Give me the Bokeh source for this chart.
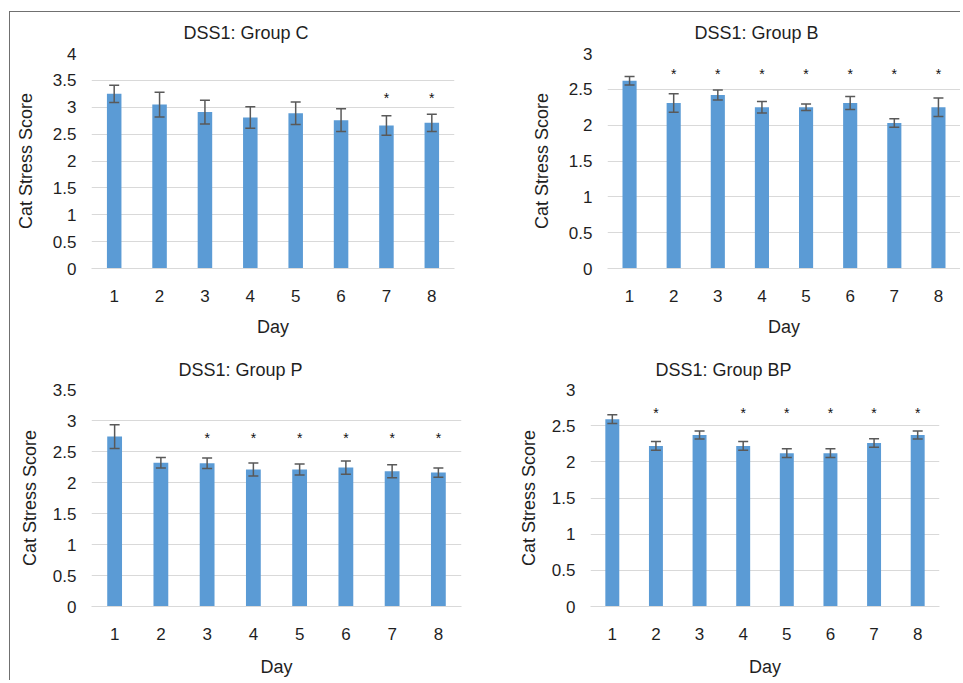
import numpy as np
from bokeh.plotting import figure
from bokeh.layouts import row, column
from bokeh.models import (ColumnDataSource, Range1d, FixedTicker, Whisker, TeeHead,
                          NumeralTickFormatter)
from bokeh.core.properties import value
from bokeh.embed import file_html
from bokeh.resources import INLINE

# ---------------- data ----------------
days = [1, 2, 3, 4, 5, 6, 7, 8]
day_labels = ["1", "2", "3", "4", "5", "6", "7", "8"]

c_mean = [3.25, 3.05, 2.91, 2.81, 2.89, 2.76, 2.66, 2.71]
c_err = [0.16, 0.23, 0.22, 0.20, 0.21, 0.21, 0.18, 0.16]
c_sig = [7, 8]

b_mean = [2.62, 2.31, 2.42, 2.25, 2.25, 2.31, 2.03, 2.25]
b_err = [0.06, 0.13, 0.07, 0.08, 0.045, 0.09, 0.06, 0.13]
b_sig = [2, 3, 4, 5, 6, 7, 8]

p_mean = [2.74, 2.32, 2.31, 2.21, 2.21, 2.24, 2.18, 2.16]
p_err = [0.19, 0.085, 0.085, 0.105, 0.09, 0.105, 0.105, 0.075]
p_sig = [3, 4, 5, 6, 7, 8]

bp_mean = [2.59, 2.22, 2.37, 2.22, 2.12, 2.12, 2.26, 2.37]
bp_err = [0.06, 0.06, 0.055, 0.06, 0.06, 0.06, 0.06, 0.055]
bp_sig = [2, 4, 5, 6, 7, 8]

FONT = "Liberation Sans"
TXT = "#1f1f1f"
BAR = "#5b9bd5"
ERR = "#595959"
GRID = "#d9d9d9"


def panel(title, mean, err, sig, ymax, star_y, width, height, borders,
          title_offset, title_standoff, title_valign, xlab_standoff, ylab_standoff):
    left, right, top, bottom = borders
    p = figure(width=width, height=height, output_backend="svg", toolbar_location=None,
               x_range=Range1d(0.5, 8.5), y_range=Range1d(0, ymax),
               min_border_left=left, min_border_right=right,
               min_border_top=top, min_border_bottom=bottom,
               background_fill_color="white", border_fill_color="white")
    p.outline_line_color = None
    src = ColumnDataSource(dict(x=days, top=mean,
                                upper=[m + e for m, e in zip(mean, err)],
                                lower=[m - e for m, e in zip(mean, err)]))
    p.vbar(x="x", top="top", width=0.32, source=src, fill_color=BAR, line_color=None)
    w = Whisker(base="x", upper="upper", lower="lower", source=src, level="overlay",
                line_color=ERR, line_width=1.5,
                upper_head=TeeHead(size=10, line_color=ERR, line_width=1.5),
                lower_head=TeeHead(size=10, line_color=ERR, line_width=1.5))
    p.add_layout(w)
    p.text(x=sig, y=[star_y] * len(sig), text=["*"] * len(sig),
           text_align="center", text_baseline="middle", text_font=value(FONT),
           text_font_size="14px", text_color="#111111")

    # title
    p.title.text = title
    p.title.align = "left"
    p.title.vertical_align = title_valign
    p.title.offset = title_offset
    p.title.standoff = title_standoff
    p.title.text_font = FONT
    p.title.text_font_size = "18px"
    p.title.text_font_style = "normal"
    p.title.text_color = TXT

    # grid
    p.xgrid.grid_line_color = None
    p.ygrid.grid_line_color = GRID
    p.ygrid.grid_line_width = 1.2

    # x axis
    xa = p.xaxis[0]
    xa.ticker = FixedTicker(ticks=days)
    xa.major_label_overrides = {d: l for d, l in zip(days, day_labels)}
    xa.axis_label = "Day"
    xa.axis_line_color = GRID
    xa.major_tick_line_color = None
    xa.minor_tick_line_color = None
    xa.major_label_standoff = 15
    xa.axis_label_standoff = xlab_standoff
    xa.major_label_text_font = FONT
    xa.major_label_text_font_size = "17px"
    xa.major_label_text_color = TXT
    xa.axis_label_text_font = FONT
    xa.axis_label_text_font_size = "18px"
    xa.axis_label_text_font_style = "normal"
    xa.axis_label_text_color = TXT

    # y axis
    ya = p.yaxis[0]
    ya.ticker = FixedTicker(ticks=list(np.arange(0, ymax + 0.001, 0.5)))
    ya.formatter = NumeralTickFormatter(format="0.[0]")
    ya.axis_label = "Cat Stress Score"
    ya.axis_line_color = None
    ya.major_tick_line_color = None
    ya.minor_tick_line_color = None
    ya.major_label_standoff = 9
    ya.axis_label_standoff = ylab_standoff
    ya.major_label_text_font = FONT
    ya.major_label_text_font_size = "17px"
    ya.major_label_text_color = TXT
    ya.axis_label_text_font = FONT
    ya.axis_label_text_font_size = "18px"
    ya.axis_label_text_font_style = "normal"
    ya.axis_label_text_color = TXT
    return p


pC = panel("DSS1: Group C", c_mean, c_err, c_sig, 4, 3.18, 470, 328,
           (81, 26, 41, 72), 92, 18, "top", 12, 14)
pB = panel("DSS1: Group B", b_mean, b_err, b_sig, 3, 2.71, 480, 328,
           (127, 0, 41, 70), 87, 18, "top", 12, 14)
pP = panel("DSS1: Group P", p_mean, p_err, p_sig, 3.5, 2.71, 470, 340,
           (81, 19, 49, 72), 87, 20, "bottom", 14, 10)
pBP = panel("DSS1: Group BP", bp_mean, bp_err, bp_sig, 3, 2.67, 480, 340,
            (110, 21, 49, 74), 65, 20, "bottom", 14, 10)

layout = column(row(pC, pB), row(pP, pBP),
                styles={"border-top": "1px solid #707070",
                        "border-left": "1px solid #707070"},
                margin=(11, 0, 0, 9))

open("out.html", "w").write(file_html(layout, INLINE))
